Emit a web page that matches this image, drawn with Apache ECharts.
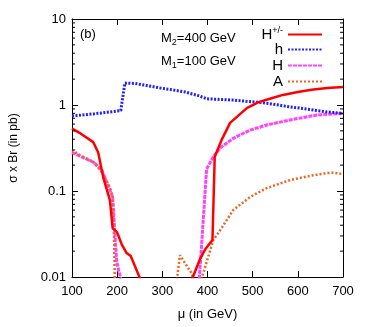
<!DOCTYPE html>
<html>
<head>
<meta charset="utf-8">
<script src="https://cdn.jsdelivr.net/npm/echarts@6/dist/echarts.min.js"></script>
<style>
html, body { margin: 0; padding: 0; background: #fff; }
#chart { width: 365px; height: 327px; }
</style>
</head>
<body>
<div id="chart"></div>
<script>
// values: [mu in GeV, sigma x Br in pb]
const chargedData = [[100,0.53],[118,0.47],[147,0.37],[158,0.28],[169,0.145],[184,0.078],[190,0.037],[200,0.033],
  [210,0.024],[221,0.019],[230,0.0175],[250,0.0098],[260,0.007],[360,0.007],[367,0.0098],[383,0.016],[395,0.021],
  [411,0.027],[416,0.25],[431,0.39],[450,0.62],[487,0.92],[513,1.08],[538,1.18],[567,1.31],[600,1.42],[630,1.5],
  [665,1.58],[700,1.62]]
const hData = [[100,0.745],[150,0.79],[208,0.86],[217,1.8],[240,1.78],[295,1.58],[350,1.42],[383,1.27],[399,1.18],
  [430,1.16],[457,1.14],[490,1.1],[531,1.05],[583,0.95],[605,0.92],[665,0.83],[700,0.8]]
const bigHData = [[100,0.28],[103,0.277],[147,0.217],[166,0.176],[190,0.085],[195,0.032],[199,0.015],[207,0.01],
  [212,0.008],[378,0.008],[382,0.01],[386,0.02],[392,0.06],[398,0.18],[413,0.25],[428,0.316],[457,0.41],[494,0.51],
  [531,0.585],[583,0.67],[642,0.765],[700,0.8]]
const aData = [[100,0.3],[118,0.26],[147,0.217],[166,0.166],[184,0.11],[190,0.085],[193,0.03],[195,0.008],
  [330,0.008],[333,0.01],[339,0.018],[352,0.014],[365,0.011],[370,0.009],[383,0.008],[388,0.01],[413,0.027],
  [428,0.035],[457,0.06],[494,0.085],[531,0.108],[583,0.134],[627,0.15],[665,0.162],[680,0.163],[700,0.157]]
const minorTicks = [0.02,0.03,0.04,0.05,0.06,0.07,0.08,0.09,0.2,0.3,0.4,0.5,0.6,0.7,0.8,0.9,2,3,4,5,6,7,8,9]
const yTickLabels = { 0.01: '0.01', 0.1: '0.1', 1: '1', 10: '10' }

const font = 'Liberation Sans, Arial, sans-serif'
let myChart = echarts.init(document.getElementById('chart'))

const axisLine = { show: true, lineStyle: { color: '#000', width: 1 } }
const tickIn = { show: true, inside: true, length: 6, lineStyle: { color: '#000' } }

let option = {
  animation: false,
  grid: { left: 72, right: 22, top: 19, bottom: 50, show: false },
  xAxis: [
    {
      type: 'value', min: 100, max: 700, interval: 100,
      name: 'μ (in GeV)', nameLocation: 'middle', nameGap: 31,
      nameTextStyle: { fontFamily: font, fontSize: 13, color: '#000' },
      axisLine: axisLine, axisTick: tickIn, splitLine: { show: false },
      axisLabel: { fontFamily: font, fontSize: 13, color: '#000', margin: 8 }
    },
    {
      type: 'value', position: 'top', min: 100, max: 700, interval: 100,
      axisLine: axisLine, axisTick: tickIn, splitLine: { show: false }, axisLabel: { show: false }
    }
  ],
  yAxis: [
    {
      type: 'log', logBase: 10, min: 0.01, max: 10,
      name: 'σ x Br (in pb)', nameLocation: 'middle', nameGap: 52,
      nameTextStyle: { fontFamily: font, fontSize: 12, color: '#000' },
      axisLine: axisLine, axisTick: tickIn, splitLine: { show: false },
      axisLabel: { fontFamily: font, fontSize: 13, color: '#000', margin: 6,
        formatter: v => yTickLabels[v] || String(v) }
    },
    {
      type: 'log', logBase: 10, min: 0.01, max: 10, position: 'right',
      axisLine: axisLine, axisTick: tickIn, splitLine: { show: false }, axisLabel: { show: false }
    }
  ],
  legend: [
    { name: 'H+/-', top: 21, formatter: '{m|H}{s|+/-}' },
    { name: 'h', top: 37 },
    { name: 'H', top: 53 },
    { name: 'A', top: 69 }
  ].map(l => ({
    data: [l.name], right: 37, top: l.top, align: 'right', orient: 'vertical',
    itemWidth: 34, itemHeight: 12, itemGap: 4,
    itemStyle: { opacity: 0 },
    formatter: l.formatter,
    textStyle: { fontFamily: font, fontSize: 15, color: '#000',
      rich: { m: { fontFamily: font, fontSize: 15, color: '#000' },
              s: { fontFamily: font, fontSize: 9, color: '#000', verticalAlign: 'top', padding: [0, 0, 8, 0] } } }
  })),
  graphic: [
    { type: 'text', left: 80, top: 28, style: { text: '(b)', font: '13px ' + font, fill: '#000' } },
    { type: 'text', left: 161, top: 32, style: {
        text: '{m|M}{s|2}{m|=400 GeV}', font: '13px ' + font,
        rich: { m: { font: '13px ' + font, fill: '#000' },
                s: { font: '9px ' + font, fill: '#000', padding: [8, 0, 0, 0] } } } },
    { type: 'text', left: 161, top: 55, style: {
        text: '{m|M}{s|1}{m|=100 GeV}', font: '13px ' + font,
        rich: { m: { font: '13px ' + font, fill: '#000' },
                s: { font: '9px ' + font, fill: '#000', padding: [8, 0, 0, 0] } } } }
  ],
  series: [
    {
      name: 'H+/-', type: 'line', data: chargedData, showSymbol: false, symbol: 'none', clip: true,
      lineStyle: { color: '#ff0000', width: 2.5 }, itemStyle: { color: '#ff0000' }, z: 5
    },
    {
      name: 'h', type: 'line', data: hData, showSymbol: false, symbol: 'none', clip: true,
      lineStyle: { color: '#1f1fff', width: 3, type: [2, 1.5] }, itemStyle: { color: '#1f1fff' }, z: 4
    },
    {
      name: 'H', type: 'line', data: bigHData, showSymbol: false, symbol: 'none', clip: true,
      lineStyle: { color: '#ff44ff', width: 3, type: [4, 1] }, itemStyle: { color: '#ff44ff' }, z: 3
    },
    {
      name: 'A', type: 'line', data: aData, showSymbol: false, symbol: 'none', clip: true,
      lineStyle: { color: '#f0641e', width: 2.5, type: [2, 2] }, itemStyle: { color: '#f0641e' }, z: 3
    },
    {
      // minor log ticks on both vertical borders
      type: 'custom', silent: true, legendHoverLink: false,
      data: minorTicks.map(v => [100, v]),
      renderItem: (params, api) => {
        const p = api.coord([100, api.value(1)])
        const q = api.coord([700, api.value(1)])
        const st = { stroke: '#000', lineWidth: 1 }
        return {
          type: 'group', children: [
            { type: 'line', shape: { x1: p[0], y1: p[1], x2: p[0] + 3, y2: p[1] }, style: st },
            { type: 'line', shape: { x1: q[0] - 3, y1: q[1], x2: q[0], y2: q[1] }, style: st }
          ]
        }
      },
      z: 10
    }
  ]
}
myChart.setOption(option)
window.addEventListener('resize', function () {
  myChart.resize()
})
</script>
</body>
</html>
